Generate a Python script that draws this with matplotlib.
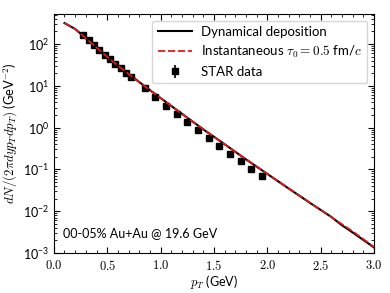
import matplotlib
matplotlib.use("Agg")
import matplotlib.pyplot as plt
from matplotlib.ticker import MultipleLocator, FuncFormatter, LogLocator, NullFormatter

plt.rcParams['mathtext.fontset'] = 'cm'
plt.rcParams['font.family'] = ['Lato', 'DejaVu Sans']

# Model curves
pt_model = [0.1, 0.2, 0.3, 0.4, 0.5, 0.6, 0.7, 0.8, 0.9, 1.0, 1.2, 1.4, 1.6, 1.8,
            2.0, 2.2, 2.4, 2.6, 2.7, 2.8, 3.0]
dyn_dep = [316, 229, 138, 83, 50, 31, 19.5, 12.3, 7.9, 5.1, 2.14, 0.91, 0.40, 0.174,
           0.078, 0.035, 0.0158, 0.0073, 0.0046, 0.0031, 0.00136]
inst_tau = [318, 228, 137, 82, 49.5, 30.5, 19.3, 12.2, 7.9, 5.1, 2.14, 0.92, 0.40, 0.176,
            0.079, 0.0355, 0.016, 0.0072, 0.0049, 0.0033, 0.00140]

# STAR data
pt_star = [0.275, 0.325, 0.375, 0.425, 0.475, 0.525, 0.575, 0.625, 0.675, 0.725,
           0.85, 0.95, 1.05, 1.15, 1.25, 1.35, 1.45, 1.55, 1.65, 1.75, 1.85, 1.95]
y_star = [162, 123, 93, 72, 56, 43, 33, 26, 20, 15.8,
          8.7, 5.4, 3.2, 2.1, 1.35, 0.89, 0.575, 0.37, 0.24, 0.155, 0.105, 0.071]
yerr_star = [v * 0.05 for v in y_star]

fig = plt.figure(figsize=(3.9, 2.93), dpi=100)
ax = fig.add_axes([0.138, 0.1365, 0.821, 0.8155])

ax.plot(pt_model, dyn_dep, color='black', lw=1.5, label='Dynamical deposition', zorder=3)
ax.plot(pt_model, inst_tau, color='#dd1c1c', lw=1.3, ls='--', dashes=(4, 1.5),
        label=r'Instantaneous $\tau_0 = 0.5$ fm/$c$', zorder=4)
ax.errorbar(pt_star, y_star, yerr=yerr_star, fmt='s', color='black', ms=4.5,
            elinewidth=1.2, label='STAR data', zorder=2)

ax.set_yscale('log')
ax.set_xlim(0, 3.0)
ax.set_ylim(1e-3, 520)

ax.xaxis.set_major_locator(MultipleLocator(0.5))
ax.xaxis.set_minor_locator(MultipleLocator(0.1))
ax.xaxis.set_major_formatter(FuncFormatter(lambda v, p: r'$%.1f$' % v))
ax.yaxis.set_major_locator(LogLocator(base=10, numticks=20))
ax.yaxis.set_minor_locator(LogLocator(base=10, subs=[i for i in range(2, 10)], numticks=20))
ax.yaxis.set_minor_formatter(NullFormatter())

ax.tick_params(which='both', direction='in', top=True, right=True, labelsize=9)
ax.tick_params(which='major', length=4, width=0.8)
ax.tick_params(which='minor', length=2, width=0.6)

ax.set_xlabel(r'$p_T$ (GeV)', fontsize=9, labelpad=1)
ax.set_ylabel(r'$dN/(2\pi dy p_T dp_T)$ (GeV$^{-2}$)', fontsize=9.3, labelpad=2)

ax.text(0.03, 0.065, '00-05% Au+Au @ 19.6 GeV', transform=ax.transAxes, fontsize=9)

ax.legend(loc='upper right', fontsize=9.5, handlelength=2.6, borderaxespad=0.5,
          labelspacing=0.45, handletextpad=0.7)

fig.savefig('out.png', dpi=100)
